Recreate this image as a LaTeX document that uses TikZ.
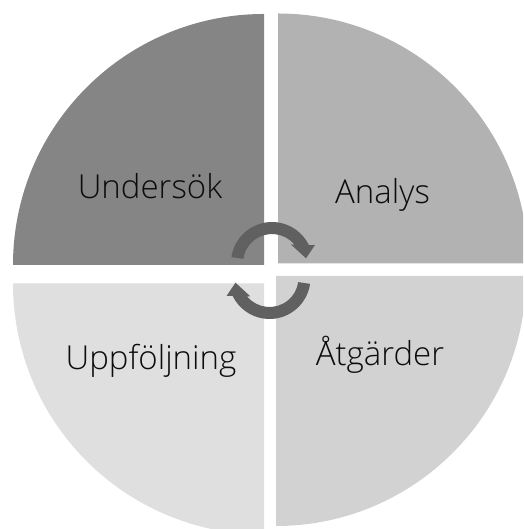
\documentclass[tikz,border=0pt]{standalone}
\usepackage{fontspec}
\setmainfont{Open Sans Light}
\definecolor{qone}{RGB}{133,133,133}
\definecolor{qtwo}{RGB}{178,178,178}
\definecolor{qthree}{RGB}{223,223,223}
\definecolor{qfour}{RGB}{210,210,210}
\definecolor{arrowgray}{RGB}{96,96,96}
\definecolor{lbltext}{RGB}{12,12,12}
\begin{document}
\begin{tikzpicture}[x=1pt,y=1pt,
  lbl/.style={font=\fontsize{33}{39}\selectfont, text=lbltext, anchor=base, inner sep=0pt},
  cyc/.style={fill=arrowgray},
  cycarrow/.pic={
    \fill[cyc] (171.8:41) arc[start angle=171.8, end angle=26.0, radius=41]
      -- (43,18) -- (34,4.7) -- (19,18.5) -- (39.6:29)
      arc[start angle=39.6, end angle=171.8, radius=29] -- cycle;
  }]
\useasboundingbox (0,0) rectangle (523,529);
\begin{scope}
\clip (0,0) rectangle (523,529);
\fill[qone] (264,264) -- ++(-251,0) arc[start angle=180, end angle=90, radius=251] -- cycle;
\fill[qtwo] (278,265.5) -- ++(0,250) arc[start angle=90, end angle=0, radius=250] -- cycle;
\fill[qthree] (264,245.5) -- ++(-251,0) arc[start angle=180, end angle=270, radius=251] -- cycle;
\fill[qfour] (276,253) -- ++(250,0) arc[start angle=0, end angle=-90, radius=250] -- cycle;
\end{scope}
\pic at (272,266) {cycarrow};
\pic[rotate=180] at (269.5,251) {cycarrow};
\node[lbl] (und) at (150,330) {Undersök};
\node[lbl] (ana) at (382.5,325) {Analys};
\node[lbl] (upp) at (151,159) {Uppföljning};
\node[lbl] (atg) at (380,163.3) {Åtgärder};
\end{tikzpicture}
\end{document}
